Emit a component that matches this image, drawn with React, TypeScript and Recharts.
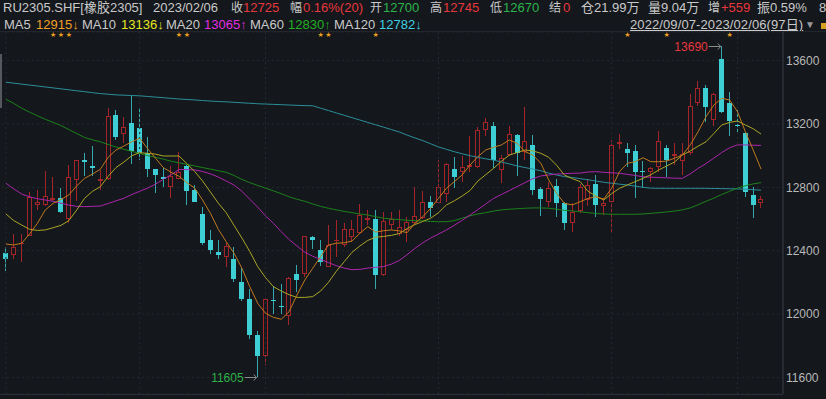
import React from 'react';
import {
    ComposedChart,
    Bar,
    Line,
    XAxis,
    YAxis,
    CartesianGrid,
    ReferenceLine,
    ReferenceDot,
} from 'recharts';

// trading days, 2022/09/07 - 2023/02/06 (97 days)
const sepDays = [7, 8, 9, 13, 14, 15, 16, 19, 20, 21, 22, 23, 26, 27, 28, 29, 30];
const octDays = [10, 11, 12, 13, 14, 17, 18, 19, 20, 21, 24, 25, 26, 27, 28, 31];
const novDays = [1, 2, 3, 4, 7, 8, 9, 10, 11, 14, 15, 16, 17, 18, 21, 22, 23, 24, 25, 28, 29, 30];
const decDays = [1, 2, 5, 6, 7, 8, 9, 12, 13, 14, 15, 16, 19, 20, 21, 22, 23, 26, 27, 28, 29, 30];
const janDays = [3, 4, 5, 6, 9, 10, 11, 12, 13, 16, 17, 18, 19, 20, 30, 31];
const febDays = [1, 2, 3, 6];

const pad = (d: number) => (d < 10 ? `0${d}` : `${d}`);
const dates = [
    ...sepDays.map(d => `2022/09/${pad(d)}`),
    ...octDays.map(d => `2022/10/${pad(d)}`),
    ...novDays.map(d => `2022/11/${pad(d)}`),
    ...decDays.map(d => `2022/12/${pad(d)}`),
    ...janDays.map(d => `2023/01/${pad(d)}`),
    ...febDays.map(d => `2023/02/${pad(d)}`),
];

const openPrices = [
    12385, 12375, 12440, 12495, 12690, 12690, 12720, 12730, 12600, 12845,
    12975, 12935, 12840, 12855, 13255, 13140, 13205, 13175, 13015, 12915,
    12865, 12800, 12855, 12935, 12785, 12630, 12470, 12390, 12360, 12350,
    12200, 12095, 11870, 11735, 12090, 12050, 11985, 12255, 12255, 12485,
    12405, 12300, 12465, 12435, 12485, 12510, 12595, 12600, 12245, 12560,
    12505, 12530, 12575, 12605, 12705, 12700, 12760, 12915, 12895, 12930,
    12930, 13165, 13185, 12910, 13005, 13130, 13025, 13070, 12790, 12705,
    12810, 12700, 12575, 12650, 12720, 12820, 12680, 12705, 13075, 13045,
    13030, 12905, 12895, 12930, 13050, 13000, 12965, 13015, 13330, 13430,
    13225, 13610, 13330, 13195, 13145, 12750, 12700,
];
const highPrices = [
    12425, 12505, 12505, 12770, 12785, 12905, 12865, 12795, 12940, 12975,
    13020, 13060, 12910, 13300, 13290, 13245, 13380, 13300, 13115, 12915,
    12920, 12935, 13025, 12940, 12815, 12675, 12530, 12470, 12450, 12425,
    12290, 12155, 11890, 12110, 12180, 12190, 12235, 12310, 12495, 12495,
    12470, 12560, 12595, 12575, 12595, 12695, 12660, 12660, 12645, 12645,
    12660, 12615, 12805, 12775, 12745, 12975, 12955, 12990, 13000, 13125,
    13180, 13235, 13215, 13005, 13190, 13135, 13305, 13130, 12805, 12835,
    12855, 12710, 12700, 12820, 12850, 12880, 12730, 13100, 13135, 13080,
    13065, 12965, 12930, 13155, 13065, 13080, 13080, 13390, 13470, 13445,
    13395, 13690, 13405, 13290, 13150, 12800, 12745,
];
const lowPrices = [
    12270, 12350, 12330, 12490, 12655, 12680, 12715, 12640, 12575, 12715,
    12870, 12870, 12785, 12845, 13100, 13080, 12950, 12975, 12865, 12765,
    12800, 12735, 12850, 12690, 12705, 12435, 12380, 12350, 12300, 12205,
    12080, 11845, 11605, 11680, 12000, 12000, 11930, 12140, 12235, 12410,
    12305, 12295, 12360, 12425, 12455, 12505, 12560, 12160, 12240, 12530,
    12490, 12455, 12570, 12600, 12610, 12695, 12705, 12795, 12835, 12900,
    12925, 13125, 12920, 12830, 13000, 12870, 12975, 12750, 12620, 12675,
    12615, 12530, 12520, 12635, 12680, 12615, 12625, 12510, 13045, 12930,
    12730, 12795, 12835, 12900, 12865, 12940, 12880, 13005, 13315, 13210,
    13185, 13270, 13125, 13140, 12740, 12605, 12670,
];
const closePrices = [
    12350, 12425, 12450, 12740, 12705, 12745, 12735, 12645, 12865, 12975,
    12960, 12925, 12850, 13250, 13115, 13180, 13030, 13020, 12915, 12875,
    12855, 12870, 12895, 12775, 12710, 12450, 12405, 12375, 12430, 12220,
    12095, 11870, 11735, 12095, 12080, 12045, 12230, 12215, 12490, 12470,
    12330, 12435, 12470, 12535, 12535, 12625, 12605, 12245, 12585, 12600,
    12550, 12580, 12620, 12705, 12670, 12805, 12950, 12865, 12930, 12940,
    13165, 13215, 12975, 12985, 13140, 13020, 13090, 12785, 12725, 12795,
    12700, 12575, 12645, 12800, 12815, 12690, 12700, 13070, 13085, 13015,
    12895, 12895, 12920, 13095, 12975, 13010, 13010, 13315, 13430, 13310,
    13390, 13275, 13220, 13185, 12770, 12690, 12725,
];

const ma5 = [
    12442, 12436, 12447, 12505, 12573, 12657, 12699, 12724, 12752, 12809,
    12857, 12884, 12914, 12990, 13036, 13061, 13088, 13110, 13045, 12985,
    12925, 12895, 12870, 12830, 12795, 12720, 12636, 12535, 12457, 12384,
    12289, 12173, 12068, 12005, 11979, 11967, 12015, 12120, 12215, 12289,
    12362, 12436, 12447, 12450, 12461, 12510, 12552, 12518, 12526, 12531,
    12525, 12514, 12573, 12615, 12668, 12731, 12794, 12836, 12878, 12941,
    12994, 13036, 13053, 13068, 13099, 13078, 13025, 13004, 12952, 12847,
    12762, 12699, 12689, 12709, 12730, 12740, 12726, 12794, 12899, 12952,
    12962, 12987, 12962, 12962, 12966, 12984, 13004, 13068, 13152, 13246,
    13320, 13362, 13352, 13278, 13152, 13036, 12915,
];
const ma10 = [
    12632, 12590, 12562, 12535, 12528, 12531, 12545, 12560, 12590, 12657,
    12731, 12775, 12804, 12870, 12925, 12960, 13000, 13019, 13015, 13010,
    12998, 12998, 12998, 12950, 12900, 12840, 12770, 12700, 12640, 12560,
    12480, 12395, 12300, 12230, 12173, 12145, 12122, 12105, 12105, 12110,
    12145, 12200, 12270, 12330, 12390, 12430, 12465, 12485, 12490, 12497,
    12508, 12540, 12565, 12585, 12605, 12640, 12689, 12715, 12745, 12780,
    12840, 12880, 12920, 12965, 13004, 13020, 13036, 13030, 13015, 12990,
    12940, 12878, 12855, 12836, 12775, 12745, 12720, 12760, 12794, 12815,
    12836, 12857, 12880, 12910, 12935, 12960, 13004, 13030, 13060, 13088,
    13140, 13194, 13210, 13219, 13194, 13170, 13136,
];
const ma20 = [
    12826, 12790, 12758, 12740, 12728, 12720, 12712, 12700, 12688, 12680,
    12678, 12680, 12682, 12698, 12715, 12731, 12755, 12775, 12795, 12820,
    12850, 12880, 12912, 12912, 12910, 12900, 12885, 12865, 12840, 12815,
    12775, 12725, 12675, 12620, 12573, 12520, 12470, 12430, 12390, 12365,
    12345, 12325, 12305, 12290, 12280, 12282, 12290, 12295, 12300, 12315,
    12338, 12375, 12415, 12450, 12480, 12505, 12531, 12560, 12592, 12625,
    12660, 12695, 12730, 12755, 12780, 12805, 12830, 12855, 12872, 12878,
    12884, 12886, 12889, 12890, 12897, 12899, 12895, 12892, 12889, 12882,
    12875, 12867, 12864, 12862, 12860, 12858, 12857, 12885, 12920, 12950,
    12985, 13020, 13050, 13068, 13068, 13066, 13065,
];
const ma60 = [
    13356, 13330, 13300, 13275, 13252, 13230, 13210, 13190, 13165, 13140,
    13115, 13100, 13088, 13070, 13055, 13040, 13027, 13015, 13000, 12990,
    12978, 12965, 12955, 12945, 12935, 12925, 12915, 12905, 12895, 12875,
    12850, 12830, 12812, 12795, 12778, 12760, 12740, 12725, 12712, 12695,
    12680, 12668, 12658, 12648, 12640, 12632, 12625, 12615, 12605, 12600,
    12596, 12592, 12590, 12588, 12585, 12583, 12583, 12590, 12605, 12620,
    12632, 12640, 12650, 12658, 12662, 12665, 12668, 12670, 12670, 12668,
    12662, 12655, 12651, 12646, 12640, 12635, 12632, 12630, 12630, 12630,
    12630, 12632, 12636, 12640, 12645, 12650, 12658, 12670, 12690, 12712,
    12732, 12755, 12775, 12795, 12810, 12822, 12830,
];
const ma120 = [
    13464, 13458, 13452, 13446, 13440, 13434, 13428, 13422, 13416, 13410,
    13404, 13398, 13392, 13388, 13384, 13382, 13380, 13378, 13374, 13370,
    13366, 13362, 13358, 13355, 13352, 13348, 13345, 13342, 13340, 13337,
    13334, 13331, 13328, 13326, 13324, 13322, 13320, 13318, 13316, 13315,
    13300, 13285, 13270, 13255, 13240, 13225, 13210, 13195, 13180, 13165,
    13150, 13130, 13112, 13095, 13075, 13055, 13040, 13025, 13012, 13000,
    12990, 12980, 12972, 12960, 12948, 12935, 12925, 12915, 12905, 12890,
    12878, 12868, 12862, 12855, 12848, 12840, 12832, 12826, 12820, 12815,
    12808, 12800, 12795, 12794, 12794, 12794, 12794, 12794, 12794, 12794,
    12793, 12792, 12791, 12790, 12788, 12785, 12782,
];

const starDates = [
    '2022/09/16', '2022/09/19', '2022/09/20', '2022/10/17', '2022/10/18',
    '2022/11/10', '2022/11/11', '2022/11/21', '2023/01/05', '2023/01/12', '2023/01/31',
];
const monthStarts = ['2022/09/07', '2022/10/10', '2022/11/01', '2022/12/01', '2023/01/03', '2023/02/01'];
const yTicks = [11600, 12000, 12400, 12800, 13200, 13600];
const yDomain = [11495, 13781];
const starLevel = 13760;

const BG = '#14171c';
const UP = '#a3252a';
const DOWN = '#3dcfd3';
const DOWN_WICK = '#33a9ae';
const GRID = '#252930';
const RED = '#e8383d';
const GREEN = '#2db34a';
const GRAY = '#c9c9c9';

const rows = dates.map((date, i) => ({
    date,
    range: [lowPrices[i], highPrices[i]],
    open: openPrices[i],
    high: highPrices[i],
    low: lowPrices[i],
    close: closePrices[i],
    ma5: ma5[i],
    ma10: ma10[i],
    ma20: ma20[i],
    ma60: ma60[i],
    ma120: ma120[i],
    star: starDates.includes(date) ? starLevel : null,
}));

function Candle(props: any) {
    const { x, y, width, height, payload } = props;
    if (x == null || y == null || !payload) return <g />;
    const { open, close, high, low } = payload;
    const k = height / (high - low || 1);
    const cx = Math.floor(x + width / 2) + 0.5;
    const top = Math.round(y);
    const bottom = Math.round(y + height);
    const bTop = Math.round(y + (high - Math.max(open, close)) * k);
    const bBot = Math.max(bTop + 1, Math.round(y + (high - Math.min(open, close)) * k));

    if (close >= open) {
        const thin = bBot - bTop <= 2;
        return (
            <g>
                <line x1={cx} x2={cx} y1={top} y2={bTop} stroke={UP} />
                <line x1={cx} x2={cx} y1={bBot} y2={bottom} stroke={UP} />
                {thin ? (
                    <rect x={cx - 2.5} y={bTop} width={5} height={bBot - bTop} fill={UP} />
                ) : (
                    <rect x={cx - 2} y={bTop + 0.5} width={4} height={bBot - bTop - 1} fill={BG} stroke={UP} />
                )}
            </g>
        );
    }
    return (
        <g>
            <line x1={cx} x2={cx} y1={top} y2={bottom} stroke={DOWN_WICK} />
            <rect x={cx - 2.5} y={bTop} width={5} height={bBot - bTop} fill={DOWN} />
        </g>
    );
}

const renderStar = (p: any) => {
    if (p.payload == null || p.payload.star == null || p.cx == null) return <g key={`st${p.index}`} />;
    return (
        <text key={`st${p.index}`} x={p.cx} y={p.cy} textAnchor="middle" dominantBaseline="central"
            fontSize={7} fill="#f0a020" fontFamily="DejaVu Sans">★</text>
    );
};

function Extreme(props: any) {
    const { cx, cy, color, text } = props;
    if (cx == null || cy == null) return <g />;
    const y = Math.round(cy) + 0.5;
    return (
        <g>
            <line x1={cx - 13} x2={cx - 1} y1={y} y2={y} stroke="#8a8a8a" />
            <path d={`M${cx - 4},${y - 3} L${cx - 1},${y} L${cx - 4},${y + 3}`} stroke="#8a8a8a" fill="none" />
            <text x={cx - 14} y={y} textAnchor="end" dominantBaseline="central" fill={color}
                fontSize={12} fontFamily="Liberation Sans, Arial">{text}</text>
        </g>
    );
}

const hdr: React.CSSProperties = {
    position: 'absolute',
    fontSize: 13,
    lineHeight: '16px',
    whiteSpace: 'nowrap',
    fontFamily: "'Liberation Sans', Arial, 'Noto Sans CJK SC', sans-serif",
    color: GRAY,
};

// [left, text, colour, font size]
const row1: [number, string, string, number][] = [
    [3, 'RU2305.SHF[橡胶2305]', GRAY, 13],
    [153, '2023/02/06', GRAY, 13],
    [231, '收', GRAY, 12], [243, '12725', RED, 13],
    [290, '幅', GRAY, 12], [303, '0.16%(20)', RED, 13],
    [370, '开', GRAY, 12], [383, '12700', GREEN, 13],
    [430, '高', GRAY, 12], [443, '12745', RED, 13],
    [490, '低', GRAY, 12], [503, '12670', GREEN, 13],
    [549, '结', GRAY, 12], [563, '0', RED, 13],
    [581, '仓21.99万', GRAY, 13],
    [648, '量9.04万', GRAY, 13],
    [708, '增', GRAY, 12], [721, '+559', RED, 13],
    [757, '振0.59%', GRAY, 13],
    [819, '8', GRAY, 13],
];
const row2: [number, string, string, number][] = [
    [4, 'MA5', GRAY, 13], [36, '12915↓', '#f0a028', 13],
    [82, 'MA10', GRAY, 13], [121, '13136↓', '#e6e622', 13],
    [166, 'MA20', GRAY, 13], [204, '13065↑', '#e02ee0', 13],
    [250, 'MA60', GRAY, 13], [288, '12830↑', '#22b022', 13],
    [334, 'MA120', GRAY, 13], [379, '12782↓', '#3fcfe0', 13],
];

export default function App() {
    return (
        <div style={{ position: 'fixed', left: 0, top: 0, width: 826, height: 399, background: BG, overflow: 'hidden' }}>
            {row1.map(([left, t, c, fs], i) => (
                <span key={`a${i}`} style={{ ...hdr, left, top: 0, color: c, fontSize: fs }}>{t}</span>
            ))}
            {row2.map(([left, t, c, fs], i) => (
                <span key={`b${i}`} style={{ ...hdr, left, top: 17, color: c, fontSize: fs }}>{t}</span>
            ))}
            <span style={{ ...hdr, left: 630, top: 17, letterSpacing: 0.1, textDecoration: 'underline' }}>
                2022/09/07-2023/02/06(97日)
            </span>
            <span style={{ ...hdr, left: 805, top: 17, fontSize: 10, color: '#9a9a9a' }}>▼</span>
            <div style={{ position: 'absolute', left: 821, top: 23, width: 6, height: 6, background: '#d8a020' }} />
            <div style={{ position: 'absolute', left: 0, top: 31, width: 826, height: 1, background: '#23272d' }} />
            <div style={{ position: 'absolute', left: 0, top: 54, width: 2, height: 54, background: '#55585e' }} />
            <div style={{ position: 'absolute', left: 0, top: 394, width: 783, height: 1, background: '#2a2e35' }} />
            <div style={{ position: 'absolute', left: 0, top: 32 }}>
                <ComposedChart width={826} height={362} data={rows} margin={{ top: 0, right: 0, left: 2, bottom: 0 }}>
                    <CartesianGrid vertical={false} stroke={GRID} strokeDasharray="2 3" />
                    <XAxis dataKey="date" hide padding={{ left: 0, right: 18 }} />
                    <YAxis
                        orientation="right"
                        domain={yDomain}
                        ticks={yTicks}
                        allowDataOverflow
                        width={43}
                        interval={0}
                        axisLine={{ stroke: '#3a3e46' }}
                        tickLine={false}
                        tickSize={0}
                        tickMargin={3}
                        tick={{ fill: '#b8b8b8', fontSize: 12, fontFamily: 'Liberation Sans, Arial' }}
                    />
                    {monthStarts.map(d => (
                        <ReferenceLine key={d} x={d} stroke={GRID} strokeDasharray="2 3" />
                    ))}
                    <Bar dataKey="range" shape={Candle} isAnimationActive={false} />
                    <Line dataKey="ma120" stroke="#2b8f9b" strokeWidth={1} dot={false} isAnimationActive={false} />
                    <Line dataKey="ma60" stroke="#1c821c" strokeWidth={1} dot={false} isAnimationActive={false} />
                    <Line dataKey="ma20" stroke="#ac26ac" strokeWidth={1} dot={false} isAnimationActive={false} />
                    <Line dataKey="ma10" stroke="#aca626" strokeWidth={1} dot={false} isAnimationActive={false} />
                    <Line dataKey="ma5" stroke="#c07a1e" strokeWidth={1} dot={false} isAnimationActive={false} />
                    <Line dataKey="star" stroke="none" dot={renderStar} activeDot={false} isAnimationActive={false} />
                    <ReferenceDot x="2023/01/30" y={13690} r={0}
                        shape={(p: any) => <Extreme {...p} color={RED} text="13690" />} />
                    <ReferenceDot x="2022/10/31" y={11605} r={0}
                        shape={(p: any) => <Extreme {...p} color={GREEN} text="11605" />} />
                </ComposedChart>
            </div>
        </div>
    );
}
